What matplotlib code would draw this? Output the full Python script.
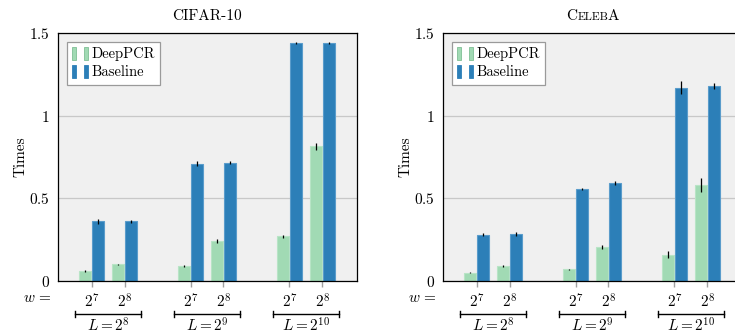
import matplotlib
matplotlib.use("Agg")
import matplotlib.pyplot as plt
from matplotlib.patches import Patch
from matplotlib.legend_handler import HandlerTuple
from matplotlib import transforms

plt.rcParams['font.family'] = ['cmr10', 'DejaVu Serif']
plt.rcParams['mathtext.fontset'] = 'cm'
plt.rcParams['axes.formatter.use_mathtext'] = True

# ---- data ----
groups = ["$L = 2^{8}$", "$L = 2^{9}$", "$L = 2^{10}$"]
widths = ["$2^{7}$", "$2^{8}$"]
series = ["DeepPCR", "Baseline"]

cifar_deeppcr = [0.06, 0.10, 0.09, 0.24, 0.27, 0.815]
cifar_deeppcr_err = [0.004, 0.005, 0.005, 0.012, 0.008, 0.02]
cifar_baseline = [0.36, 0.36, 0.71, 0.715, 1.44, 1.44]
cifar_baseline_err = [0.015, 0.01, 0.015, 0.008, 0.008, 0.008]

celeba_deeppcr = [0.05, 0.09, 0.07, 0.205, 0.16, 0.58]
celeba_deeppcr_err = [0.004, 0.005, 0.005, 0.01, 0.02, 0.04]
celeba_baseline = [0.28, 0.285, 0.555, 0.595, 1.17, 1.18]
celeba_baseline_err = [0.008, 0.01, 0.005, 0.012, 0.04, 0.02]

yticks = [0, 0.5, 1, 1.5]
ytick_labels = ["$0$", "$0.5$", "$1$", "$1.5$"]

green = "#a1dab4"
green_edge = "#b8e4c6"
blue = "#2c7fb8"
blue_edge = "#5a9ccb"

W, H = 735, 333
fig = plt.figure(figsize=(W / 100, H / 100), dpi=100)

ax_h = 248
ax_w = 299
bottom = (H - 281) / H

positions = [0, 1, 3, 4, 6, 7]
bw = 0.36
off = 0.2


def draw(ax, dp, dpe, bl, ble, title_cb):
    ax.set_facecolor("#f0f0f0")
    ax.set_axisbelow(True)
    ax.grid(axis="y", color="#c8c8c8", linewidth=0.9)
    xs_d = [p - off for p in positions]
    xs_b = [p + off for p in positions]
    ax.bar(xs_d, dp, width=bw, color=green, edgecolor=green_edge, linewidth=0.8,
           yerr=dpe, error_kw=dict(ecolor="black", elinewidth=0.9, capsize=0))
    ax.bar(xs_b, bl, width=bw, color=blue, edgecolor=blue_edge, linewidth=0.8,
           yerr=ble, error_kw=dict(ecolor="black", elinewidth=0.9, capsize=0))
    ax.set_xlim(-1.02, 8.05)
    ax.set_ylim(0, 1.5)
    ax.set_yticks(yticks)
    ax.set_yticklabels(ytick_labels, fontsize=11)
    ax.tick_params(axis="y", length=0, pad=6)
    ax.set_xticks(positions)
    ax.set_xticklabels(widths * 3, fontsize=11)
    ax.tick_params(axis="x", length=4, color="#a0a0a0", width=1.0, pad=4)
    for s in ax.spines.values():
        s.set_linewidth(0.9)
        s.set_color("black")
    ax.set_ylabel("Times", fontsize=11, labelpad=1)

    # w = label
    tw = (transforms.blended_transform_factory(ax.transData, ax.transAxes)
          + transforms.ScaledTranslation(-0.06, -0.17, fig.dpi_scale_trans))
    ax.text(-1.02, 0, "$w\\,=$", fontsize=11, ha="right", va="center", transform=tw)

    # group brackets
    tr = transforms.blended_transform_factory(ax.transData, ax.transAxes)
    yb = -33 / ax_h
    cap = 3 / ax_h
    for gi, g in enumerate(groups):
        x0 = positions[2 * gi] - 0.5
        x1 = positions[2 * gi + 1] + 0.5
        ax.plot([x0, x1], [yb, yb], color="black", lw=1.0, transform=tr, clip_on=False)
        ax.plot([x0, x0], [yb - cap, yb + cap], color="black", lw=1.0, transform=tr, clip_on=False)
        ax.plot([x1, x1], [yb - cap, yb + cap], color="black", lw=1.0, transform=tr, clip_on=False)
        ax.text((x0 + x1) / 2, -44.5 / ax_h, g, fontsize=11, ha="center", va="center",
                transform=tr)

    h1 = (Patch(facecolor=green, edgecolor="#7fbf95", linewidth=0.6),
          Patch(facecolor=green, edgecolor="#7fbf95", linewidth=0.6))
    h2 = (Patch(facecolor=blue, edgecolor=blue, linewidth=0.6),
          Patch(facecolor=blue, edgecolor=blue, linewidth=0.6))
    leg = ax.legend([h1, h2], series, handler_map={tuple: HandlerTuple(ndivide=None, pad=0.5)},
                    loc="upper left", bbox_to_anchor=(0.03, 0.965), fontsize=10.5,
                    fancybox=False, edgecolor="#9a9a9a", framealpha=1.0,
                    handlelength=1.1, handleheight=1.0, handletextpad=0.2,
                    borderpad=0.35, labelspacing=0.25, borderaxespad=0)
    leg.get_frame().set_linewidth(0.9)
    title_cb(ax)


def title_cifar(ax):
    ax.set_title("CIFAR-10", fontsize=11, pad=9)


def title_celeba(ax):
    # small caps emulation: C + ELEB (small) + A
    tr = ax.transAxes
    parts = [("C", 11, 0), ("ELEB", 8.3, -1.0), ("A", 11, 0)]
    renderer = fig.canvas.get_renderer()
    texts = []
    widths_px = []
    for s, fs, adj in parts:
        t = ax.text(0.5, 1.0, s, fontsize=fs, ha="left", va="baseline", transform=tr)
        texts.append(t)
        widths_px.append(t.get_window_extent(renderer).width + adj)
    total = sum(widths_px)
    x = -total / 2
    for t, wpx in zip(texts, widths_px):
        t.set_transform(tr + transforms.ScaledTranslation(x / fig.dpi, 13 / 100, fig.dpi_scale_trans))
        x += wpx


ax1 = fig.add_axes([58 / W, bottom, ax_w / W, ax_h / H])
draw(ax1, cifar_deeppcr, cifar_deeppcr_err, cifar_baseline, cifar_baseline_err, title_cifar)
ax2 = fig.add_axes([443 / W, bottom, ax_w / W, ax_h / H])
draw(ax2, celeba_deeppcr, celeba_deeppcr_err, celeba_baseline, celeba_baseline_err, title_celeba)

fig.savefig("out.png", dpi=100)
